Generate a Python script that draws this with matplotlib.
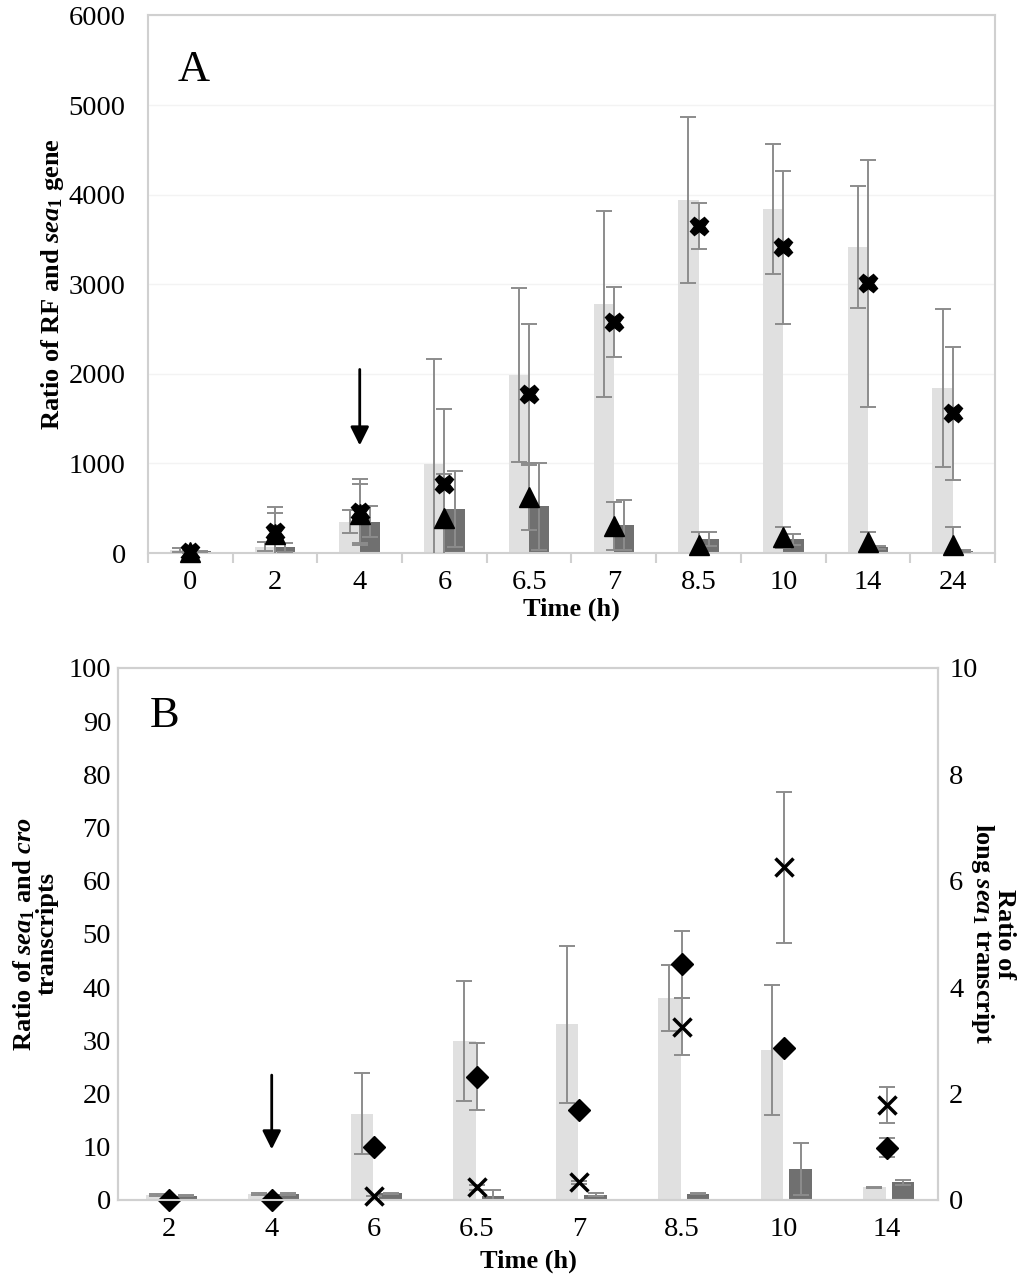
import matplotlib
matplotlib.use("Agg")
import matplotlib.pyplot as plt
import numpy as np

plt.rcParams['font.family'] = ['Liberation Serif', 'DejaVu Serif']
plt.rcParams['mathtext.fontset'] = 'custom'
plt.rcParams['mathtext.rm'] = 'Liberation Serif:bold'
plt.rcParams['mathtext.it'] = 'Liberation Serif:italic:bold'
plt.rcParams['mathtext.bf'] = 'Liberation Serif:bold'

# ---- panel A data ----
times_a = ['0', '2', '4', '6', '6.5', '7', '8.5', '10', '14', '24']
light_a = [35, 70, 350, 990, 1990, 2780, 3940, 3840, 3420, 1840]
light_a_err = [20, 50, 130, 1170, 970, 1040, 930, 730, 680, 880]
dark_a = [20, 63, 350, 490, 520, 310, 156, 152, 63, 20]
dark_a_err = [5, 50, 170, 420, 490, 280, 80, 60, 20, 10]
cross_a = [10, 240, 460, 770, 1770, 2580, 3650, 3410, 3010, 1560]
cross_a_err = [20, 270, 370, 840, 790, 390, 255, 850, 1375, 740]
tri_a = [10, 210, 440, 390, 630, 300, 90, 175, 126, 90]
tri_a_err = [20, 240, 330, 490, 370, 270, 150, 120, 110, 200]

# ---- panel B data ----
times_b = ['2', '4', '6', '6.5', '7', '8.5', '10', '14']
light_b = [1.0, 1.2, 16.2, 29.9, 33.0, 37.9, 28.2, 2.4]
light_b_err = [0.2, 0.2, 7.6, 11.3, 14.8, 6.2, 12.2, 0.1]
dark_b = [0.8, 1.2, 1.3, 0.7, 1.0, 1.2, 5.9, 3.3]
dark_b_err = [0.1, 0.2, 0.1, 1.1, 0.3, 0.1, 4.9, 0.4]
diamond_b = [0, 0, 9.9, 23.2, 17.0, 44.3, 28.5, 9.8]
diamond_b_err = [0, 0, 0, 6.3, 0, 6.3, 0, 1.8]
# long sea1 transcript, right axis (not visible at 2 h and 4 h)
cross_b = [np.nan, np.nan, 0.08, 0.24, 0.33, 3.26, 6.25, 1.79]
cross_b_err = [0, 0, 0, 0.05, 0.03, 0.53, 1.42, 0.34]

LIGHT = '#e0e0e0'
DARK = '#707070'
ERR = '#8c8c8c'
FRAME = '#d0d0d0'
TICK_FS = 20.5
LAB_FS = 19

fig = plt.figure(figsize=(10.24, 12.87), dpi=100)

ebkw = dict(fmt='none', ecolor=ERR, elinewidth=1.4, capsize=5.5, capthick=1.4)


def frame(ax):
    for s in ax.spines.values():
        s.set_color(FRAME)
        s.set_linewidth(1.5)


# ================= A =================
ax = fig.add_axes([0.1445, 0.5703, 0.8272, 0.4177])
x = np.arange(len(times_a))
ax.bar(x - 0.12, light_a, 0.24, color=LIGHT, zorder=2)
ax.bar(x + 0.12, dark_a, 0.24, color=DARK, zorder=2)
ax.errorbar(x - 0.12, light_a, yerr=light_a_err, zorder=3, **ebkw)
ax.errorbar(x + 0.12, dark_a, yerr=dark_a_err, zorder=3, **ebkw)
ax.errorbar(x, cross_a, yerr=cross_a_err, zorder=3, **ebkw)
ax.errorbar(x, tri_a, yerr=tri_a_err, zorder=3, **ebkw)
ax.plot(x, cross_a, 'X', color='black', ms=13, mec='black', zorder=4, clip_on=False)
ax.plot(x, tri_a, '^', color='black', ms=14, zorder=5, clip_on=False)
ax.set_xlim(-0.5, len(times_a) - 0.5)
ax.set_ylim(0, 6000)
ax.set_yticks(np.arange(0, 6001, 1000))
ax.yaxis.grid(True, color='#f3f3f3', lw=1)
ax.set_axisbelow(True)
ax.set_xticks(x)
ax.set_xticklabels(times_a)
ax.set_xticks(np.arange(-0.5, len(times_a), 1), minor=True)
ax.tick_params(axis='x', which='major', length=0, labelsize=TICK_FS, pad=12)
ax.tick_params(axis='x', which='minor', length=7, color=FRAME, width=1.5)
ax.tick_params(axis='y', length=0, labelsize=TICK_FS, pad=16)
frame(ax)
ax.set_xlabel('Time (h)', fontsize=LAB_FS, fontweight='bold', labelpad=2)
ax.set_ylabel(r'Ratio of RF and $\mathit{sea}_{\mathit{1}}$ gene', fontsize=LAB_FS,
              fontweight='bold', va='center')
ax.yaxis.set_label_coords(-0.113, 0.5)
ax.text(0.035, 0.898, 'A', transform=ax.transAxes, fontsize=32, va='center')
ax.annotate('', xy=(2, 1170), xytext=(2, 2080),
            arrowprops=dict(arrowstyle='-|>', color='black', lw=2,
                            mutation_scale=28))

# ================= B =================
bx = fig.add_axes([0.1152, 0.0676, 0.8008, 0.4134])
xb = np.arange(len(times_b))
bx.bar(xb - 0.12, light_b, 0.22, color=LIGHT, zorder=2)
bx.bar(xb + 0.16, dark_b, 0.22, color=DARK, zorder=2)
bx.errorbar(xb - 0.12, light_b, yerr=light_b_err, zorder=3, **ebkw)
bx.errorbar(xb + 0.16, dark_b, yerr=dark_b_err, zorder=3, **ebkw)
bx.errorbar(xb, diamond_b, yerr=diamond_b_err, zorder=3, **ebkw)
bx.plot(xb, diamond_b, 'D', color='black', ms=11, zorder=5, clip_on=False)
bx.set_xlim(-0.5, len(times_b) - 0.5)
bx.set_ylim(0, 100)
bx.set_yticks(np.arange(0, 101, 10))
bx.set_xticks(xb)
bx.set_xticklabels(times_b)
bx.tick_params(axis='x', length=0, labelsize=TICK_FS, pad=12)
bx.tick_params(axis='y', length=0, labelsize=TICK_FS, pad=5)
frame(bx)
bx.set_xlabel('Time (h)', fontsize=LAB_FS, fontweight='bold', labelpad=6)
bx.set_ylabel('Ratio of $\\mathit{sea}_{\\mathit{1}}$ and $\\mathit{cro}$\ntranscripts',
              fontsize=LAB_FS, fontweight='bold', linespacing=0.9, va='center')
bx.yaxis.set_label_coords(-0.101, 0.5)
bx.text(0.039, 0.91, 'B', transform=bx.transAxes, fontsize=32, va='center')
bx.annotate('', xy=(1, 9), xytext=(1, 24),
            arrowprops=dict(arrowstyle='-|>', color='black', lw=2,
                            mutation_scale=28))

rx = bx.twinx()
rx.set_ylim(0, 10)
rx.set_yticks(np.arange(0, 11, 2))
rx.errorbar(xb, cross_b, yerr=cross_b_err, zorder=3, **ebkw)
rx.plot(xb, cross_b, 'x', color='black', ms=13, mew=2.5, zorder=5, clip_on=False)
rx.tick_params(axis='y', length=0, labelsize=TICK_FS, pad=8)
frame(rx)
rx.set_ylabel('Ratio of\nlong $\\mathit{sea}_{\\mathit{1}}$ transcript', fontsize=LAB_FS,
              fontweight='bold', rotation=-90, linespacing=0.85, va='center')
rx.yaxis.set_label_coords(1.066, 0.5)

fig.savefig('out.png', dpi=100)
